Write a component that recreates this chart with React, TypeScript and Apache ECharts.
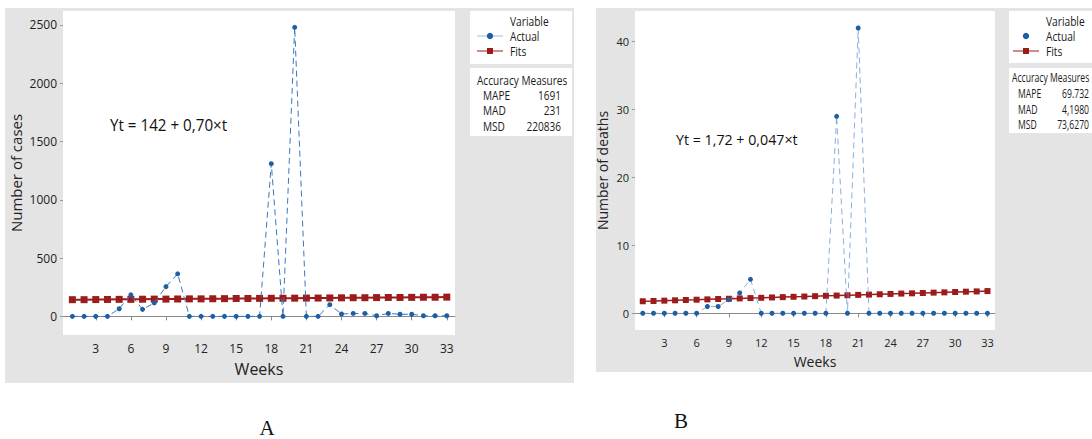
import React, { useEffect, useRef } from "react";
import * as echarts from "echarts";

const weeks = [1,2,3,4,5,6,7,8,9,10,11,12,13,14,15,16,17,18,19,20,21,22,23,24,25,26,27,28,29,30,31,32,33];
const casesActual = [0,0,0,0,65,185,60,115,255,365,0,0,0,0,0,0,0,1310,0,2480,0,0,100,20,25,25,5,25,18,18,5,5,5];
const casesFits = [143,143,144,145,146,146,147,148,148,149,150,150,151,152,153,153,154,155,155,156,157,157,158,159,160,160,161,162,162,163,164,164,165];
const deathsActual = [0,0,0,0,0,0,1,1,2,3,5,0,0,0,0,0,0,0,29,0,42,0,0,0,0,0,0,0,0,0,0,0,0];
const deathsFits = [1.77,1.81,1.86,1.91,1.96,2.0,2.05,2.1,2.14,2.19,2.24,2.28,2.33,2.38,2.43,2.47,2.52,2.57,2.61,2.66,2.71,2.75,2.8,2.85,2.9,2.94,2.99,3.04,3.08,3.13,3.18,3.22,3.27];
const weekTicks = [3,6,9,12,15,18,21,24,27,30,33];
const casesTicks = [0,500,1000,1500,2000,2500];
const deathsTicks = [0,10,20,30,40];
const casesMeasures = [["MAPE","1691"],["MAD","231"],["MSD","220836"]];
const deathsMeasures = [["MAPE","69.732"],["MAD","4,1980"],["MSD","73,6270"]];

const FONT = "Open Sans";
const BLUE = "#1d5fa6";
const RED = "#9c1c1c";

function pairs(vals: number[]) {
  return weeks.map((w, i) => [w, vals[i]]);
}

function xAxisOpt(gridIndex: number, min: number, fs: number, nameFs: number, gap: number) {
  return {
    type: "value", gridIndex, min, max: 33.7,
    axisLine: { show: true, lineStyle: { color: "#8a8a8a", width: 1 } },
    axisTick: { show: true, customValues: weekTicks, length: 4, lineStyle: { color: "#8a8a8a" } },
    axisLabel: { customValues: weekTicks, fontSize: fs, color: "#222", fontFamily: FONT, margin: 7, formatter: (v: number) => String(v) },
    splitLine: { show: false },
    name: "Weeks", nameLocation: "middle", nameGap: gap,
    nameTextStyle: { fontSize: nameFs, color: "#222", fontFamily: FONT },
  };
}

function yAxisOpt(gridIndex: number, min: number, max: number, ticks: number[], fs: number, name: string, nameFs: number, gap: number) {
  return {
    type: "value", gridIndex, min, max,
    axisLine: { show: false },
    axisTick: { show: true, customValues: ticks, length: 3, lineStyle: { color: "#9a9a9a" } },
    axisLabel: { customValues: ticks, fontSize: fs, color: "#222", fontFamily: FONT, margin: 6, formatter: (v: number) => String(v) },
    splitLine: { show: false },
    name, nameLocation: "middle", nameGap: gap, nameRotate: 90,
    nameTextStyle: { fontSize: nameFs, color: "#222", fontFamily: FONT },
  };
}

function txt(text: string, x: number, y: number, sx: number, fs: number, align: string = "left") {
  return {
    type: "text", z: 20, x, y, scaleX: sx,
    style: { text, fontSize: fs, fontFamily: FONT, fill: "#1a1a1a", textAlign: align, textVerticalAlign: "middle" },
  };
}

function legendEls(x0: number, showActualLine: boolean, sx: number, fs: number) {
  const els: any[] = [];
  if (showActualLine) {
    els.push({ type: "line", z: 20, shape: { x1: x0, y1: 36, x2: x0 + 26, y2: 36 }, style: { stroke: "#9dbbe0", lineWidth: 1 } });
  }
  els.push({ type: "circle", z: 21, shape: { cx: x0 + 13, cy: 36, r: 3.2 }, style: { fill: BLUE } });
  els.push({ type: "line", z: 20, shape: { x1: x0, y1: 51, x2: x0 + 26, y2: 51 }, style: { stroke: RED, lineWidth: 1 } });
  els.push({ type: "rect", z: 21, shape: { x: x0 + 10, y: 48, width: 6, height: 6 }, style: { fill: RED } });
  els.push(txt("Variable", x0 + 33, 21, sx, fs));
  els.push(txt("Actual", x0 + 33, 36, sx, fs));
  els.push(txt("Fits", x0 + 33, 51, sx, fs));
  return els;
}

function measureEls(x0: number, valRight: number, rows: string[][], ys: number[], sx: number, fs: number) {
  const els: any[] = [];
  els.push(txt("Accuracy Measures", x0, ys[0], sx, fs));
  rows.forEach((r, i) => {
    els.push(txt(r[0], x0 + 6, ys[i + 1], sx, fs));
    els.push(txt(r[1], valRight, ys[i + 1], sx, fs, "right"));
  });
  return els;
}

export default function App() {
  const ref = useRef<HTMLDivElement>(null);
  useEffect(() => {
    document.body.style.margin = "0";
    const chart = echarts.init(ref.current!, undefined, { renderer: "svg" });
    const graphic: any[] = [
      { type: "rect", z: -10, shape: { x: 5, y: 8, width: 569, height: 375 }, style: { fill: "#e4e4e4" } },
      { type: "rect", z: -10, shape: { x: 596, y: 8, width: 496, height: 364 }, style: { fill: "#e4e4e4" } },
      { type: "rect", z: -9, shape: { x: 63, y: 11, width: 392, height: 324 }, style: { fill: "#ffffff" } },
      { type: "rect", z: -9, shape: { x: 635, y: 11, width: 360, height: 319 }, style: { fill: "#ffffff" } },
      { type: "rect", z: -9, shape: { x: 470, y: 11, width: 102, height: 53 }, style: { fill: "#ffffff" } },
      { type: "rect", z: -9, shape: { x: 470, y: 68, width: 102, height: 68 }, style: { fill: "#ffffff" } },
      { type: "rect", z: -9, shape: { x: 1009, y: 11, width: 90, height: 52 }, style: { fill: "#ffffff" } },
      { type: "rect", z: -9, shape: { x: 1009, y: 68, width: 90, height: 65 }, style: { fill: "#ffffff" } },
      ...legendEls(477, true, 0.85, 12),
      ...legendEls(1013, false, 0.85, 12),
      ...measureEls(477, 561, casesMeasures, [80, 95, 110, 126], 0.84, 12),
      ...measureEls(1012, 1089, deathsMeasures, [77, 93, 109, 124], 0.72, 12),
      { type: "text", z: 20, x: 110, y: 125, scaleX: 0.95, style: { text: "Yt = 142 + 0,70×t", fontSize: 16, fontFamily: FONT, fill: "#111", textVerticalAlign: "middle" } },
      { type: "text", z: 20, x: 676, y: 139, scaleX: 0.95, style: { text: "Yt = 1,72 + 0,047×t", fontSize: 15, fontFamily: FONT, fill: "#111", textVerticalAlign: "middle" } },
      { type: "text", z: 20, x: 267, y: 428, style: { text: "A", fontSize: 21, fontFamily: "Liberation Serif", fill: "#111", textAlign: "center", textVerticalAlign: "middle" } },
      { type: "text", z: 20, x: 681, y: 421, style: { text: "B", fontSize: 21, fontFamily: "Liberation Serif", fill: "#111", textAlign: "center", textVerticalAlign: "middle" } },
    ];
    chart.setOption({
      animation: false,
      grid: [
        { left: 63, top: 11, width: 392, height: 324, containLabel: false },
        { left: 635, top: 11, width: 360, height: 319, containLabel: false },
      ],
      xAxis: [xAxisOpt(0, 0.2, 12, 16, 26), xAxisOpt(1, 0.28, 11, 14, 24)],
      yAxis: [
        yAxisOpt(0, -160, 2620, casesTicks, 12, "Number of cases", 15, 40),
        yAxisOpt(1, -2.46, 44.5, deathsTicks, 11, "Number of deaths", 14, 26),
      ],
      graphic,
      series: [
        {
          type: "line", xAxisIndex: 0, yAxisIndex: 0, data: pairs(casesFits), z: 3,
          symbol: "rect", symbolSize: 7, itemStyle: { color: RED },
          lineStyle: { color: RED, width: 2 },
        },
        {
          type: "line", xAxisIndex: 0, yAxisIndex: 0, data: pairs(casesActual), z: 4,
          symbol: "circle", symbolSize: 5, itemStyle: { color: BLUE },
          lineStyle: { color: "#3b78bb", width: 1, type: [6, 4] },
        },
        {
          type: "line", xAxisIndex: 1, yAxisIndex: 1, data: pairs(deathsFits), z: 3,
          symbol: "rect", symbolSize: 6, itemStyle: { color: RED },
          lineStyle: { color: RED, width: 1.5 },
        },
        {
          type: "line", xAxisIndex: 1, yAxisIndex: 1, data: pairs(deathsActual), z: 4,
          symbol: "circle", symbolSize: 5, itemStyle: { color: BLUE },
          lineStyle: { color: "#6f9bd0", width: 0.8, type: [6, 4] },
        },
      ],
    });
    return () => chart.dispose();
  }, []);
  return <div ref={ref} style={{ width: 1092, height: 439 }} />;
}
